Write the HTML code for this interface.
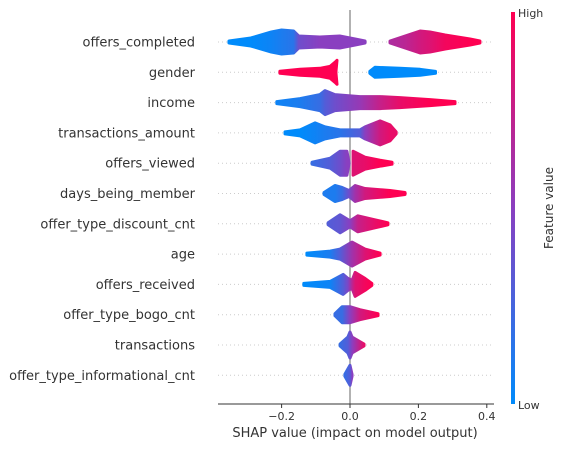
<!DOCTYPE html>
<html><head><meta charset="utf-8"><style>
body{margin:0;background:#fff;}
svg text{font-family:"DejaVu Sans","Liberation Sans",sans-serif;}
</style></head><body>
<svg id="chart" width="564" height="446" xmlns="http://www.w3.org/2000/svg">
<defs>
<linearGradient id="cbar" x1="0" y1="1" x2="0" y2="0">
<stop offset="0" stop-color="#008bfb"/><stop offset="0.5" stop-color="#8a3fc0"/><stop offset="1" stop-color="#ff0052"/>
</linearGradient>
</defs>
<g id="grid"></g>
<line x1="350" y1="10" x2="350" y2="404" stroke="#999" stroke-width="1.5"/>
<g id="marks"></g>
<g id="labels"></g>
<line x1="218" y1="404" x2="494" y2="404" stroke="#333" stroke-width="1"/>
<g id="ticks"></g>
<text x="355" y="437" font-size="13" text-anchor="middle" fill="#333">SHAP value (impact on model output)</text>
<rect x="511" y="12" width="4" height="392" fill="url(#cbar)"/>
<text x="518" y="17" font-size="11" fill="#333">High</text>
<text x="518" y="409" font-size="11" fill="#333">Low</text>
<text x="553" y="208" font-size="12" fill="#333" text-anchor="middle" transform="rotate(-90 553 208)">Feature value</text>
</svg>
<script>
const features=["offers_completed","gender","income","transactions_amount","offers_viewed","days_being_member","offer_type_discount_cnt","age","offers_received","offer_type_bogo_cnt","transactions","offer_type_informational_cnt"];
// each blob: knots of [shap value, density half-width, color fraction 0=low 1=high]
const blobs=[
 [[[-0.354,1,0],[-0.29,4,0],[-0.23,10,0.05],[-0.2,12,0.1],[-0.165,11,0.15],[-0.15,6,0.4],[-0.088,5,0.5],[-0.03,6,0.5],[0.015,3,0.5],[0.044,1,0.5]],
  [[0.117,1,0.65],[0.161,6,0.7],[0.205,11,0.8],[0.234,10,0.85],[0.278,7,0.95],[0.351,3,1],[0.38,1,1]]],
 [[[-0.205,1,1],[-0.146,3,1],[-0.088,4,1],[-0.058,6,1],[-0.044,10,1],[-0.038,12,1],[-0.041,1,1]],
  [[0.058,1,0],[0.073,5,0],[0.146,4,0],[0.205,3,0],[0.25,1,0]]],
 [[[-0.214,1,0.05],[-0.146,4,0.1],[-0.088,8,0.2],[-0.073,12,0.3],[-0.044,8,0.4],[0.029,6,0.55],[0.088,6,0.75],[0.146,5,0.9],[0.234,3,1],[0.307,1,1]]],
 [[[-0.19,1,0],[-0.146,3,0],[-0.102,10,0.05],[-0.073,6,0.1],[-0.029,3,0.15],[0.029,3,0.3],[0.044,6,0.5],[0.088,12,0.8],[0.117,8,0.9],[0.135,1,0.9]]],
 [[[-0.111,1,0.2],[-0.058,5,0.3],[-0.029,12,0.4],[-0.009,12,0.5],[-0.003,1,0.5]],
  [[0.009,1,0.85],[0.009,12,0.85],[0.044,6,0.9],[0.088,3,1],[0.123,1,1]]],
 [[[-0.076,1,0.1],[-0.044,8,0.1],[-0.023,6,0.2],[-0.003,3,0.4],[0.015,8,0.6],[0.044,5,0.8],[0.117,3,1],[0.161,1,1]]],
 [[[-0.064,1,0.3],[-0.029,9,0.35],[0,3,0.5],[0.023,8,0.75],[0.073,4,0.9],[0.111,1,1]]],
 [[[-0.126,1,0],[-0.058,3,0.1],[-0.029,5,0.3],[0.006,12,0.6],[0.044,5,0.85],[0.088,1,1]]],
 [[[-0.135,1,0],[-0.058,3,0.05],[-0.02,10,0.3],[-0.006,6,0.45],[0.006,4,0.7],[0.015,12,0.85],[0.044,6,0.95],[0.064,1,1]]],
 [[[-0.044,1,0.2],[-0.023,8,0.2],[0,8,0.5],[0.029,5,0.8],[0.082,1,1]]],
 [[[-0.029,1,0.2],[-0.006,8,0.3],[0,13,0.4],[0.006,8,0.5],[0.041,1,0.9]]],
 [[[-0.015,1,0.2],[0,10,0.3],[0.006,1,0.5]]]
];
const ticks=[-0.2,0,0.2,0.4];
const tickLabels=["\u22120.2","0.0","0.2","0.4"];
const x=v=>350+v*342;
const y=i=>42+i*30.3;
const ns="http://www.w3.org/2000/svg";
function mk(t,a,p){const e=document.createElementNS(ns,t);for(const k in a)e.setAttribute(k,a[k]);p.appendChild(e);return e;}
function col(f){const b=[0,139,251],m=[138,63,192],r=[255,0,82];let a,c,t;if(f<0.5){a=b;c=m;t=f*2}else{a=m;c=r;t=(f-0.5)*2}return`rgb(${a.map((v,i)=>Math.round(v+(c[i]-v)*t)).join(',')})`;}
const grid=document.getElementById('grid'),marks=document.getElementById('marks'),labels=document.getElementById('labels'),tk=document.getElementById('ticks');
const defs=document.querySelector('defs');
features.forEach((f,i)=>{
 const g=mk('line',{x1:218,x2:494,y1:y(i),y2:y(i),stroke:'#ccc','stroke-width':1,'stroke-dasharray':'1,3'},grid);
 
 
 const t=mk('text',{x:195,y:y(i)+4.5,'font-size':13,'text-anchor':'end',fill:'#333'},labels);
 t.textContent=f;
 
 
 blobs[i].forEach((k,j)=>{
  const id='g'+i+'_'+j,x0=x(k[0][0]),x1=x(k[k.length-1][0]);
  const lg=mk('linearGradient',{id:id,gradientUnits:'userSpaceOnUse',x1:x0,x2:Math.max(x1,x0+1),y1:0,y2:0},defs);
  k.forEach(p=>mk('stop',{offset:Math.min(1,Math.max(0,(x(p[0])-x0)/Math.max(1,x1-x0))),'stop-color':col(p[2])},lg));
  const top=k.map(p=>`${x(p[0])},${y(i)-p[1]}`),bot=k.slice().reverse().map(p=>`${x(p[0])},${y(i)+p[1]}`);
  const pg=mk('polygon',{points:top.concat(bot).join(' '),fill:`url(#${id})`,stroke:`url(#${id})`,'stroke-width':3,'stroke-linejoin':'round'},marks);
  
  
 });
});
ticks.forEach((v,i)=>{
 const l=mk('line',{x1:x(v),x2:x(v),y1:404,y2:408,stroke:'#333'},tk);
 
 
 const t=mk('text',{x:x(v),y:420,'font-size':11,'text-anchor':'middle',fill:'#333'},tk);
 t.textContent=tickLabels[i];
 
 
});
</script>
</body></html>
